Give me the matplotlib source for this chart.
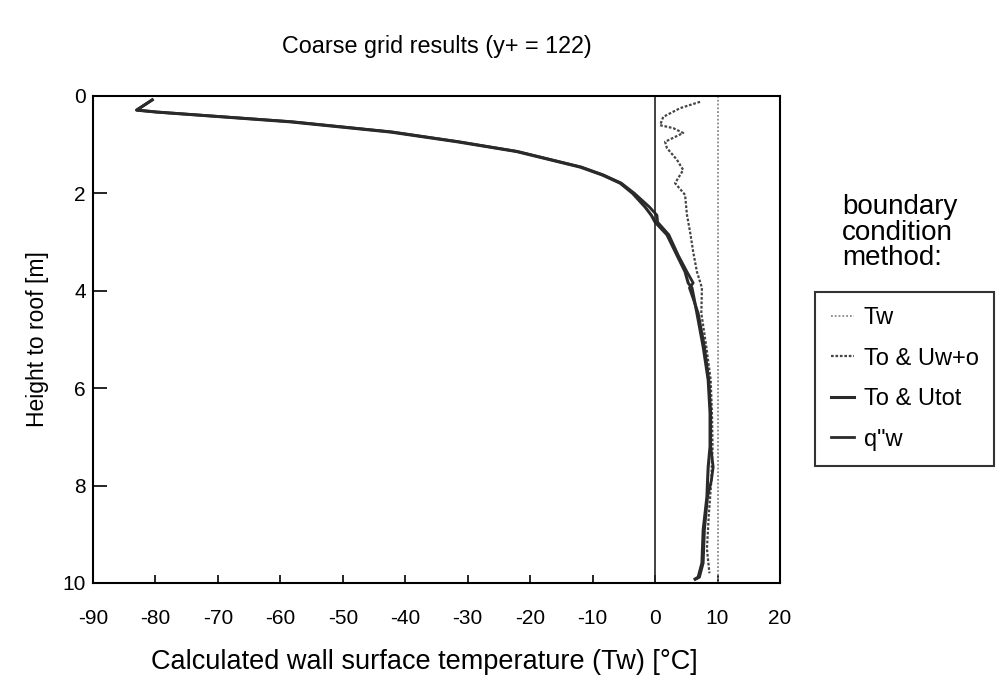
import matplotlib
matplotlib.use("Agg")
import matplotlib.pyplot as plt

plt.rcParams["font.family"] = ["Liberation Sans", "DejaVu Sans"]
plt.rcParams["axes.unicode_minus"] = False

# To & Utot (thick solid)
utot_y = [0.08, 0.29, 0.33, 0.53, 0.74, 0.94, 1.14, 1.3, 1.46, 1.62, 1.79, 2.0, 2.28, 2.45,
          2.59, 2.85, 3.27, 3.61, 3.84, 3.94, 4.46, 5.15, 5.83, 6.51, 7.2, 7.62,
          7.9, 8.23, 8.91, 9.59, 9.88, 9.92]
utot_x = [-80.5, -83.0, -79.8, -58.5, -42.4, -31.7, -22.2, -17.1, -12.0, -8.5, -5.6, -3.6, -1.6, -0.6,
          0.0, 1.9, 3.5, 4.8, 5.3, 5.9, 6.7, 7.7, 8.5, 8.8, 8.8, 8.5,
          8.4, 8.3, 7.7, 7.5, 6.9, 6.4]

# q"w (thick solid, nearly the same path)
qw_y = [0.08, 0.29, 0.33, 0.53, 0.74, 0.94, 1.14, 1.3, 1.46, 1.62, 1.79, 2.0, 2.28, 2.45,
        2.59, 2.85, 3.27, 3.61, 3.84, 3.94, 4.46, 5.15, 5.83, 6.51, 7.2, 7.62,
        7.9, 8.23, 8.91, 9.59, 9.88, 9.92]
qw_x = [-80.5, -83.0, -79.8, -58.0, -42.0, -31.4, -22.0, -16.9, -11.8, -8.3, -5.4, -3.3, -0.9, 0.3,
        0.4, 2.2, 3.7, 5.1, 6.1, 5.5, 6.9, 7.9, 8.6, 8.9, 8.9, 9.3,
        9.0, 8.4, 7.9, 7.7, 7.1, 6.5]

# To & Uw+o (dotted)
uwo_y = [0.12, 0.25, 0.43, 0.6, 0.66, 0.76, 0.94, 1.07, 1.31, 1.52, 1.79, 2.03,
         2.44, 2.79, 3.2, 3.61, 3.94, 4.46, 5.15, 5.83, 6.51, 7.2, 7.9, 8.6, 9.3, 9.8]
uwo_x = [7.2, 4.0, 1.3, 0.8, 2.9, 4.5, 1.6, 1.9, 3.5, 4.5, 3.2, 4.8,
         5.1, 5.6, 6.1, 6.7, 7.5, 7.4, 8.2, 8.9, 9.1, 9.2, 9.0, 8.6, 8.3, 8.7]

# Tw (fixed wall temperature)
tw_y = [0, 10]
tw_x = [10, 10]

xticks = [-90, -80, -70, -60, -50, -40, -30, -20, -10, 0, 10, 20]
yticks = [0, 2, 4, 6, 8, 10]

fig = plt.figure(figsize=(9.99, 6.87), dpi=100)
ax = fig.add_axes([0.093, 0.1514, 0.6878, 0.7089])

ax.plot(tw_x, tw_y, color="#8a8a8a", lw=1.3, ls=(0, (1, 1.1)), label="Tw")
ax.plot(uwo_x, uwo_y, color="#444444", lw=1.6, ls=(0, (1.2, 0.8)), label="To & Uw+o")
ax.plot(utot_x, utot_y, color="#2a2a2a", lw=2.2, label="To & Utot")
ax.plot(qw_x, qw_y, color="#2a2a2a", lw=2.0, label='q"w')
ax.axvline(0, color="#222222", lw=1.2)

ax.set_xlim(-90, 20)
ax.set_ylim(10, 0)
ax.set_xticks(xticks)
ax.set_yticks(yticks)
ax.tick_params(axis="x", direction="in", length=6, width=1.2, pad=19, labelsize=15)
ax.tick_params(axis="y", direction="in", length=10, width=1.2, pad=5, labelsize=15)
for s in ax.spines.values():
    s.set_linewidth(1.5)

ax.set_xlabel("Calculated wall surface temperature (Tw) [°C]", fontsize=19.5, labelpad=15, x=0.482)
ax.set_ylabel("Height to roof [m]", fontsize=16.5, labelpad=10)
fig.text(0.437, 0.932, "Coarse grid results (y+ = 122)", fontsize=16.8, ha="center", va="center")

fig.text(0.843, 0.661, "boundary\ncondition\nmethod:", fontsize=20, ha="left", va="center",
         linespacing=0.98)
leg = fig.legend(loc="upper left", bbox_to_anchor=(0.816, 0.575), fontsize=17,
                 frameon=True, fancybox=False, edgecolor="black", handlelength=1.0,
                 handletextpad=0.4, labelspacing=0.78, borderpad=0.65, borderaxespad=0)
leg.get_frame().set_linewidth(1.5)

plt.savefig("out.png", dpi=100)
plt.close()
